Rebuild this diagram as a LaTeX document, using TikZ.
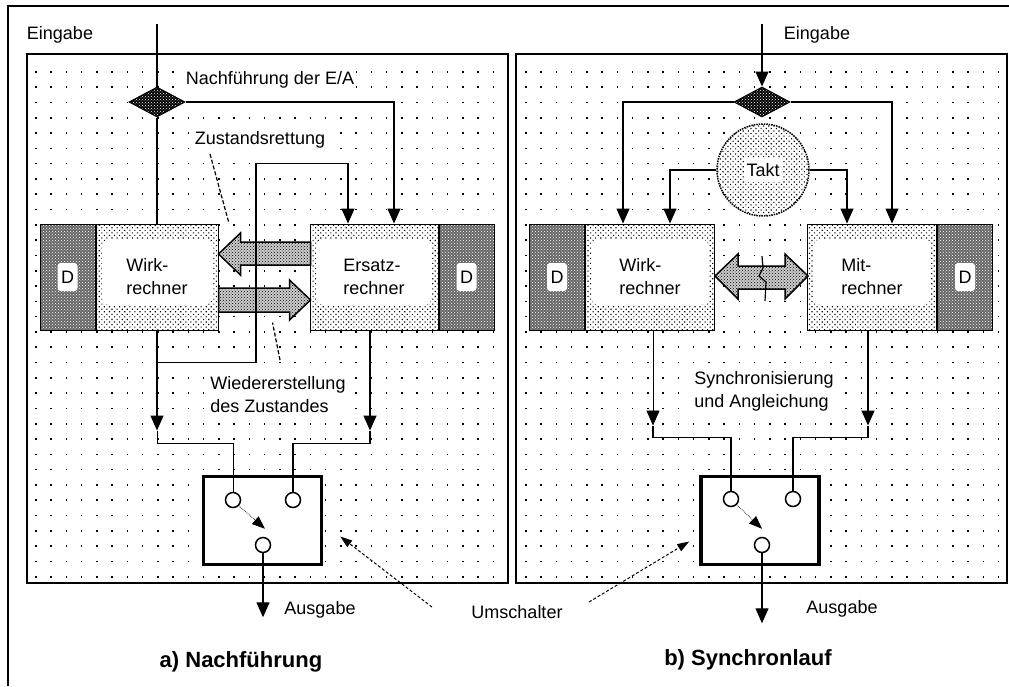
\documentclass[tikz,border=0pt]{standalone}
\usepackage{fontspec}
\setmainfont{Liberation Sans}
\usepackage{tikz}
\usetikzlibrary{shapes.geometric, arrows.meta, positioning, calc, patterns, patterns.meta}
\tikzstyle{panel} = [draw, line width=1.5pt]
\tikzstyle{rechner} = [rectangle, draw, line width=1pt, preaction={fill=white}, pattern={Dots[distance=3.6pt, radius=0.8pt, angle=45]}, minimum height=106pt, inner sep=0pt, align=left,
  path picture={\fill[white, rounded corners=8pt] ([shift={(6,15)}]path picture bounding box.north west) rectangle ([shift={(-6,-25)}]path picture bounding box.south east);}]
\tikzstyle{dspeicher} = [rectangle, draw, line width=1pt, preaction={fill=black!60}, pattern=crosshatch dots, pattern color=white, minimum width=55pt, minimum height=106pt, inner sep=0pt,
  path picture={\fill[white, rounded corners=3pt] ([shift={(-10,-14)}]path picture bounding box.center) rectangle ([shift={(10,14)}]path picture bounding box.center);}]
\tikzstyle{verteiler} = [diamond, draw, line width=1pt, preaction={fill=black}, pattern=crosshatch dots, pattern color=white, minimum width=56pt, minimum height=30pt, inner sep=0pt]
\tikzstyle{taktgeber} = [circle, draw, densely dotted, line width=1.5pt, preaction={fill=white}, pattern={Dots[distance=3.6pt, radius=0.8pt, angle=45]}, minimum size=92pt, inner sep=0pt,
  path picture={\fill[white] ([shift={(-19,-12)}]path picture bounding box.center) rectangle ([shift={(19,12)}]path picture bounding box.center);}]
\tikzstyle{schalter} = [rectangle, draw, line width=3.5pt, fill=white, minimum width=118pt, minimum height=88pt]
\tikzstyle{kontakt} = [circle, draw, line width=1.5pt, fill=white, minimum size=15pt, inner sep=0pt]
\tikzstyle{blockpfeil} = [draw, line width=1.5pt, preaction={fill=black!20}, pattern=crosshatch dots]
\tikzstyle{zeiger} = [line width=1.2pt, dash pattern=on 4pt off 2pt]
\tikzstyle{hinweis} = [line width=1pt, densely dashed, -{Triangle[width=8pt,length=12pt]}]
\tikzstyle{beschrift} = [fill=white, inner sep=2pt, align=left]
\tikzstyle{titel} = [font=\fontsize{22}{26}\selectfont\bfseries]
\tikzstyle{arrow} = [line width=1.4pt, -{Triangle[width=13pt,length=15pt]}]
\tikzstyle{linie} = [line width=1.4pt]
\tikzstyle{schmal} = [line width=0.7pt]
\begin{document}
\begin{tikzpicture}[x=1pt, y=-1pt, font=\fontsize{18}{23}\selectfont]
\useasboundingbox (0,0) rectangle (1009,686);
\draw[line width=2.5pt] (8,686) -- (8,6) -- (1009,6);
\draw[panel] (27,54) rectangle (508,583);
\draw[panel] (516,54) rectangle (1007,583);
\foreach \j in {0,...,33} {
  \foreach \i in {0,...,30} \fill (35+15.25*\i, 71+15.3*\j) rectangle ++(1.6,1.6);
  \foreach \i in {0,...,31} \fill (525+15.25*\i, 71+15.3*\j) rectangle ++(1.6,1.6);
}

% a) Nachfuehrung
\node (eingA) at (60,35) {Eingabe};
\coordinate (inA) at (157,24);
\node[verteiler] (vertA) at (157,102) {};
\node[beschrift] (nachf) at (270,80) {Nachführung der E/A};
\node[beschrift] (rett) at (260,140) {Zustandsrettung};
\node[rechner, minimum width=122pt] (wirkA) at (157,277) {Wirk-\\rechner};
\node[dspeicher, left=0pt of wirkA] (dWirkA) {D};
\node[rechner, minimum width=128pt] (ersatzA) at (374,277) {Ersatz-\\rechner};
\node[dspeicher, right=0pt of ersatzA] (dErsatzA) {D};
\node[beschrift] (wieder) at (278,395) {Wiedererstellung\\des Zustandes};
\node[schalter] (umA) at (262.5,520.5) {};
\node[kontakt] (kA1) at (233,500) {};
\node[kontakt] (kA2) at (293,500) {};
\node[kontakt] (kA3) at (263,545) {};
\node (ausA) at (320,610) {Ausgabe};
\node[titel] (titelA) at (241,662) {a) Nachführung};

\draw[blockpfeil] ([shift={(0,-23)}]wirkA.east) -- ++(22,-21) -- ++(0,9) -- ++(70,0) -- ++(0,23) -- ++(-70,0) -- ++(0,10) -- cycle;
\draw[blockpfeil] ([shift={(0,11)}]wirkA.east) -- ++(71,0) -- ++(0,-8) -- ++(21,20) -- ++(-21,20) -- ++(0,-8) -- ++(-71,0) -- cycle;

\draw[linie] (inA) -- (vertA.north);
\draw[linie] (vertA.south) -- (wirkA.north);
\draw[arrow] (vertA.east) -| ([xshift=20pt]ersatzA.north);
\draw[arrow] (wirkA.south) -- ++(0,32) coordinate (abzwA) -- ++(0,68) coordinate (pA1);
\draw[arrow] (abzwA) -- ++(99,0) -- ++(0,-199) -| ([xshift=-26pt]ersatzA.north);
\draw[schmal] (pA1) -- ++(0,13) -| (kA1.north);
\draw[arrow] ([xshift=-4pt]ersatzA.south) -- ++(0,100) coordinate (pA2);
\draw[linie] (pA2) -- ++(0,13) -| (kA2.north);
\draw[schmal, densely dotted, -{Triangle[width=10pt,length=13pt]}] (kA1.south east) -- ([shift={(2,-8)}]kA3.north);
\draw[arrow] (kA3.south) -- ++(0,64);
\draw[zeiger] ([shift={(-50,14)}]rett.center) -- ([shift={(10,-2)}]wirkA.north east);
\draw[zeiger] ([shift={(2,-35)}]wieder.center) -- ([shift={(54,-8)}]wirkA.south east);

% b) Synchronlauf
\node (eingB) at (817,35) {Eingabe};
\coordinate (inB) at (762,24);
\node[verteiler] (vertB) at (762,102) {};
\node[taktgeber] (takt) at (763,170) {Takt};
\node[rechner, minimum width=129pt] (wirkB) at (650,277) {Wirk-\\rechner};
\node[dspeicher, left=0pt of wirkB] (dWirkB) {D};
\node[rechner, minimum width=129pt] (mitB) at (872,277) {Mit-\\rechner};
\node[dspeicher, right=0pt of mitB] (dMitB) {D};
\node[beschrift] (sync) at (764,391) {Synchronisierung\\und Angleichung};
\node[schalter] (umB) at (760,520.5) {};
\node[kontakt] (kB1) at (731,499) {};
\node[kontakt] (kB2) at (793,499) {};
\node[kontakt] (kB3) at (762,545) {};
\node (ausB) at (842,609) {Ausgabe};
\node[titel] (titelB) at (748,660) {b) Synchronlauf};

\draw[blockpfeil] ([shift={(0,-1)}]wirkB.east) -- ++(23,-22) -- ++(0,12) -- ++(47,0) -- ++(0,-12) -- ++(23,22) -- ++(-23,23) -- ++(0,-10) -- ++(-47,0) -- ++(0,10) -- cycle;
\draw[line width=1.2pt] (762,256) -- (763,268) -- (759,276) -- (766,282) -- (765,301);

\draw[arrow] (inB) -- (vertB.north);
\draw[arrow] (vertB.west) -| ([xshift=-27pt]wirkB.north);
\draw[arrow] (vertB.east) -| ([xshift=20pt]mitB.north);
\draw[arrow] (takt.west) -| ([xshift=20pt]wirkB.north);
\draw[arrow] (takt.east) -| ([xshift=-25pt]mitB.north);
\draw[arrow, schmal] ([xshift=3pt]wirkB.south) -- ++(0,95) coordinate (pB1);
\draw[linie] (pB1) -- ++(0,12) -| (kB1.north);
\draw[arrow] ([xshift=-4pt]mitB.south) -- ++(0,95) coordinate (pB2);
\draw[linie] (pB2) -- ++(0,12) -| (kB2.north);
\draw[schmal, densely dotted, -{Triangle[width=10pt,length=13pt]}] (kB1.south east) -- ([shift={(0,-8)}]kB3.north);
\draw[arrow] (kB3.south) -- ++(0,70);

\node (umsch) at (517,612) {Umschalter};
\draw[hinweis] ([shift={(-36,-5)}]umsch.west) -- ([shift={(17,16)}]umA.east);
\draw[hinweis] ([shift={(23,-10)}]umsch.east) -- ([shift={(-10,21)}]umB.west);
\end{tikzpicture}
\end{document}
